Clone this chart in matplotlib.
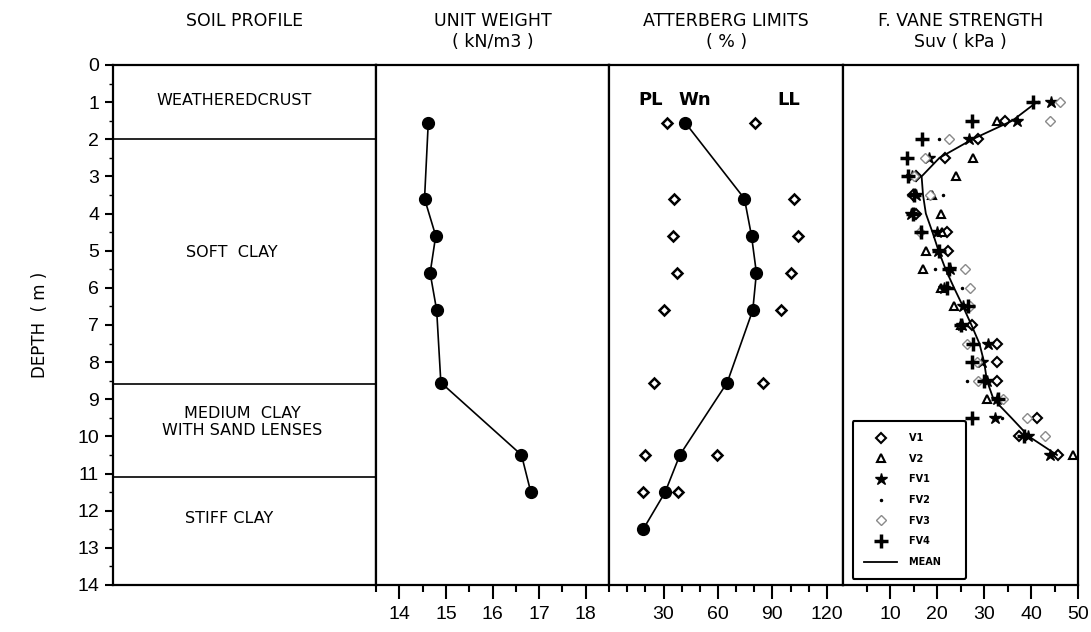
import numpy as np
import matplotlib
matplotlib.use("Agg")
import matplotlib.pyplot as plt

nan = np.nan

# soil layers (depth in m)
layer_bounds = [2.0, 8.6, 11.1]
layer_names = ["WEATHEREDCRUST", "SOFT  CLAY", "MEDIUM  CLAY\nWITH SAND LENSES", "STIFF CLAY"]
layer_label_depth = [0.97, 5.06, 9.62, 12.2]

# unit weight (kN/m3)
depth_uw = [1.55, 3.6, 4.6, 5.6, 6.6, 8.55, 10.5, 11.5]
unit_weight = [14.62, 14.54, 14.78, 14.66, 14.80, 14.89, 16.62, 16.82]

# Atterberg limits (%)
depth_atb = [1.55, 3.6, 4.6, 5.6, 6.6, 8.55, 10.5, 11.5, 12.5]
pl = [31.7, 35.5, 35.0, 37.3, 30.4, 24.5, 19.8, 18.8, nan]
wn = [41.9, 74.6, 78.5, 81.2, 79.2, 65.1, 39.0, 30.9, 18.8]
ll = [80.3, 101.7, 104.3, 100.4, 94.8, 84.9, 59.7, 38.0, nan]

# field vane strength Suv (kPa)
depth_fv = [1.0, 1.5, 2.0, 2.5, 3.0, 3.5, 4.0, 4.5, 5.0, 5.5,
            6.0, 6.5, 7.0, 7.5, 8.0, 8.5, 9.0, 9.5, 10.0, 10.5]
v1 = [nan, 34.5, 28.7, 21.6, 15.5, 14.8, 15.5, 22.0, 22.3, nan,
      nan, nan, 27.4, 32.7, 32.7, 32.7, nan, 41.2, 37.5, 45.8]
v2 = [nan, 32.7, nan, 27.7, 24.0, 19.0, 20.9, 21.0, 17.7, 17.0,
      20.8, 23.5, 25.0, nan, nan, nan, 30.6, nan, nan, 49.0]
fv1 = [44.2, 37.0, 26.8, 18.3, 14.6, 15.5, 14.5, 20.0, 20.2, 22.8,
       21.5, 25.5, 25.3, 30.9, 29.5, 30.6, 32.7, 32.3, 39.4, 44.0]
fv2 = [41.5, 37.5, 20.5, nan, nan, 21.3, nan, nan, nan, 19.6,
       25.3, nan, nan, nan, nan, 26.3, nan, 33.8, nan, nan]
fv3 = [46.2, 44.0, 22.5, 17.4, 15.0, 18.5, nan, 16.3, nan, 26.0,
       27.0, 27.0, nan, 26.3, 28.5, 28.8, 34.1, 39.1, 43.0, nan]
fv4 = [40.5, 27.5, 16.7, 13.5, 13.8, 15.0, 14.9, 16.5, 20.5, 22.5,
       22.0, 26.5, 25.0, 27.7, 27.4, 30.0, 33.0, 27.4, 38.5, nan]
fv_mean = [41.2, 36.0, 27.5, 20.5, 16.7, 17.0, 17.6, 19.0, 20.3, 21.8,
           23.6, 25.5, 27.3, 29.0, 30.0, 30.6, 32.0, 35.8, 39.5, 45.5]

NARROW = ["Liberation Sans Narrow", "DejaVu Sans"]
plt.rcParams["font.family"] = ["Liberation Sans", "DejaVu Sans"]

fig = plt.figure(figsize=(10.91, 6.32), dpi=100)
bottom, height = 0.0744, 0.8228
ax_soil = fig.add_axes([0.1036, bottom, 0.2411, height])
ax_uw = fig.add_axes([0.3447, bottom, 0.2136, height])
ax_atb = fig.add_axes([0.5583, bottom, 0.2145, height])
ax_fv = fig.add_axes([0.7728, bottom, 0.2154, height])

for ax in (ax_soil, ax_uw, ax_atb, ax_fv):
    ax.set_ylim(14, 0)
    for s in ax.spines.values():
        s.set_linewidth(1.6)
    ax.tick_params(axis="y", left=False, labelleft=False)
    ax.tick_params(axis="x", direction="out", labelsize=14, pad=5)
    ax.tick_params(axis="x", which="major", length=10, width=1.5)
    ax.tick_params(axis="x", which="minor", length=5, width=1.5)

# soil profile column
ax_soil.set_xlim(0, 1)
ax_soil.set_xticks([])
ax_soil.tick_params(axis="y", left=True, labelleft=True, labelsize=14,
                    direction="out", length=6, width=1.5, pad=4)
ax_soil.tick_params(axis="y", which="minor", left=True, length=3, width=1)
ax_soil.set_yticks(range(0, 15))
ax_soil.set_yticks(np.arange(0.5, 14, 0.5), minor=True)
ax_soil.set_ylabel("DEPTH  ( m )", fontsize=12, family=NARROW, labelpad=20)
for d in layer_bounds:
    ax_soil.axhline(d, color="black", lw=1.2)
label_x = [0.46, 0.45, 0.49, 0.44]
for name, d, lx in zip(layer_names, layer_label_depth, label_x):
    ax_soil.text(lx, d, name, ha="center", va="center", fontsize=11.5,
                 family=NARROW, linespacing=1.2)

# unit weight
ax_uw.plot(unit_weight, depth_uw, color="black", lw=1.2, marker="o", ms=8.5)
ax_uw.set_xlim(13.5, 18.5)
ax_uw.set_xticks(range(14, 19))
ax_uw.set_xticks(np.arange(13.5, 18.6, 0.5), minor=True)

# Atterberg limits
ax_atb.plot(wn, depth_atb, color="black", lw=1.2, marker="o", ms=8.5)
ax_atb.plot(pl, depth_atb, ls="none", marker="D", ms=5.5, mfc="white",
            mec="black", mew=1.8)
ax_atb.plot(ll, depth_atb, ls="none", marker="D", ms=5.5, mfc="white",
            mec="black", mew=1.8)
ax_atb.set_xlim(0, 129)
ax_atb.set_xticks([30, 60, 90, 120])
ax_atb.set_xticks(range(10, 130, 10), minor=True)
for txt, xv in (("PL", 23), ("Wn", 47), ("LL", 99)):
    ax_atb.text(xv, 0.95, txt, fontsize=13, ha="center", va="center",
                family=NARROW, weight="bold")

# field vane strength
ax_fv.plot(v1, depth_fv, ls="none", marker="D", ms=5, mfc="white",
           mec="black", mew=1.5, label="V1")
ax_fv.plot(v2, depth_fv, ls="none", marker="^", ms=6, mfc="white",
           mec="black", mew=1.5, label="V2")
ax_fv.plot(fv1, depth_fv, ls="none", marker="*", ms=9, color="black",
           label="FV1")
ax_fv.plot(fv2, depth_fv, ls="none", marker=".", ms=3, color="black",
           label="FV2")
ax_fv.plot(fv3, depth_fv, ls="none", marker="D", ms=5, mfc="white",
           mec="#8a8a8a", mew=1.0, label="FV3")
ax_fv.plot(fv4, depth_fv, ls="none", marker="+", ms=10, mew=2.5,
           color="black", label="FV4")
ax_fv.plot(fv_mean, depth_fv, color="black", lw=1.3, label="MEAN")
ax_fv.set_xlim(0, 50)
ax_fv.set_xticks([10, 20, 30, 40, 50])
ax_fv.set_xticks(range(5, 50, 10), minor=True)
leg = ax_fv.legend(loc="lower left", bbox_to_anchor=(0.04, 0.012),
                   frameon=True, fancybox=True, borderpad=1.2,
                   labelspacing=1.1, handlelength=3.4, handletextpad=1.2,
                   borderaxespad=0, prop={"family": NARROW, "size": 7,
                                          "weight": "bold"})
leg.get_frame().set_edgecolor("black")
leg.get_frame().set_linewidth(1.5)
leg.get_frame().set_alpha(1)
for t in leg.get_texts():
    t.set_text(t.get_text() + "    ")

# column headings
heads = [(ax_soil, "SOIL PROFILE", None),
         (ax_uw, "UNIT WEIGHT", "( kN/m3 )"),
         (ax_atb, "ATTERBERG LIMITS", "( % )"),
         (ax_fv, "F. VANE STRENGTH", "Suv ( kPa )")]
for ax, t1, t2 in heads:
    ax.text(0.5, 1.085, t1, transform=ax.transAxes, ha="center",
            va="center", fontsize=12.5, family=NARROW)
    if t2:
        ax.text(0.5, 1.045, t2, transform=ax.transAxes, ha="center",
                va="center", fontsize=12.5, family=NARROW)

fig.savefig("out.png", dpi=100)
